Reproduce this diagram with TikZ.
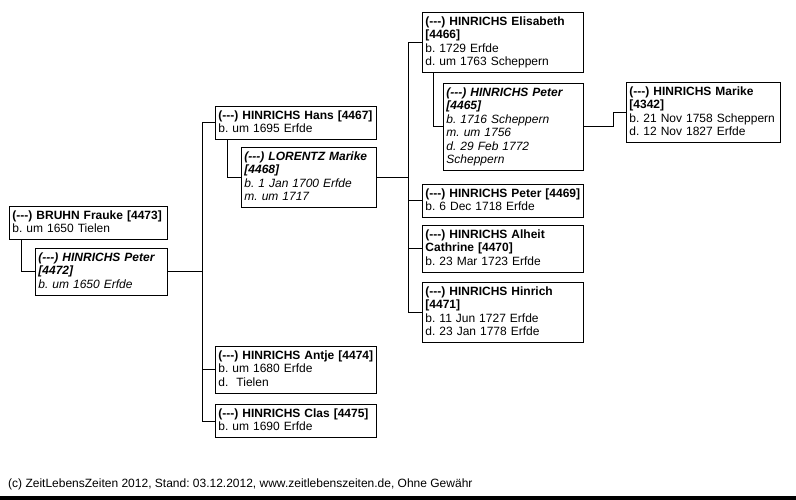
\documentclass[tikz,border=0pt]{standalone}
\usepackage{fontspec}
\setmainfont{Liberation Sans}[Ligatures=TeXOff]
\frenchspacing
\newcommand{\zs}{\rule[-3.5pt]{0pt}{13.5pt}}
\tikzset{
  pbox/.style={draw=black, line width=0.9pt, anchor=north west, align=left,
    inner xsep=3pt, inner ysep=3pt, font=\fontsize{12}{13.5}\selectfont},
  ibox/.style={pbox, font=\fontsize{12}{13.5}\selectfont\itshape},
  conn/.style={draw=black, line width=0.9pt}
}
\begin{document}
\begin{tikzpicture}[x=1pt,y=-1pt]
\useasboundingbox (0,0) rectangle (796,500);
% column 1
\node[pbox, text width=152pt] (frauke) at (9,206) {\zs\textbf{(---) BRUHN Frauke [4473]}\\\zs b. um 1650 Tielen};
\node[ibox, text width=126pt] (peterA) at (35,248) {\zs\textbf{(---) HINRICHS Peter}\\\zs\textbf{[4472]}\\\zs b. um 1650 Erfde};
% column 2
\node[pbox, text width=155pt] (hans) at (215,106) {\zs\textbf{(---) HINRICHS Hans [4467]}\\\zs b. um 1695 Erfde};
\node[ibox, text width=129pt] (marikeL) at (241,147) {\zs\textbf{(---) LORENTZ Marike}\\\zs\textbf{[4468]}\\\zs b. 1 Jan 1700 Erfde\\\zs m. um 1717};
\node[pbox, text width=155pt] (antje) at (215,346) {\zs\textbf{(---) HINRICHS Antje [4474]}\\\zs b. um 1680 Erfde\\\zs d.\ \ Tielen};
\node[pbox, text width=155pt] (clas) at (215,404) {\zs\textbf{(---) HINRICHS Clas [4475]}\\\zs b. um 1690 Erfde};
% column 3
\node[pbox, text width=155pt] (elis) at (422,12) {\zs\textbf{(---) HINRICHS Elisabeth}\\\zs\textbf{[4466]}\\\zs b. 1729 Erfde\\\zs d. um 1763 Scheppern};
\node[ibox, text width=134pt] (peterB) at (443,83) {\zs\textbf{(---) HINRICHS Peter}\\\zs\textbf{[4465]}\\\zs b. 1716 Scheppern\\\zs m. um 1756\\\zs d. 29 Feb 1772\\\zs Scheppern};
\node[pbox, text width=155pt] (peterC) at (422,184) {\zs\textbf{(---) HINRICHS Peter [4469]}\\\zs b. 6 Dec 1718 Erfde};
\node[pbox, text width=155pt] (alheit) at (422,225) {\zs\textbf{(---) HINRICHS Alheit}\\\zs\textbf{Cathrine [4470]}\\\zs b. 23 Mar 1723 Erfde};
\node[pbox, text width=155pt] (hinrich) at (422,282) {\zs\textbf{(---) HINRICHS Hinrich}\\\zs\textbf{[4471]}\\\zs b. 11 Jun 1727 Erfde\\\zs d. 23 Jan 1778 Erfde};
% column 4
\node[pbox, text width=148pt] (marikeH) at (626,82) {\zs\textbf{(---) HINRICHS Marike}\\\zs\textbf{[4342]}\\\zs b. 21 Nov 1758 Scheppern\\\zs d. 12 Nov 1827 Erfde};
% trunk coordinates
\coordinate (t1) at (202,0);
\coordinate (t2) at (408,0);
\coordinate (s1) at (21,0);
\coordinate (s2) at (227,0);
\coordinate (s3) at (433,0);
\coordinate (j4) at (613,0);
% connectors
\draw[conn] (frauke.south -| s1) |- (peterA.west);
\draw[conn] (peterA.east) -- (peterA.east -| t1);
\draw[conn] (hans.west) -| (hans.west -| t1) |- (clas.west);
\draw[conn] (antje.west -| t1) -- (antje.west);
\draw[conn] (hans.south -| s2) |- (marikeL.west);
\draw[conn] (marikeL.east) -- (marikeL.east -| t2);
\draw[conn] (elis.west) -- (elis.west -| t2) |- (hinrich.west);
\draw[conn] (peterC.west -| t2) -- (peterC.west);
\draw[conn] (alheit.west -| t2) -- (alheit.west);
\draw[conn] (elis.south -| s3) |- (peterB.west);
\draw[conn] (peterB.east) -- (peterB.east -| j4) |- (marikeH.west);
% footer
\node[anchor=base west, inner sep=0pt, font=\fontsize{12}{13.5}\selectfont] (foot) at (8,487) {(c) ZeitLebensZeiten 2012, Stand: 03.12.2012, www.zeitlebenszeiten.de, Ohne Gewähr};
\fill[black] (0,496) rectangle (796,500);
\end{tikzpicture}
\end{document}
